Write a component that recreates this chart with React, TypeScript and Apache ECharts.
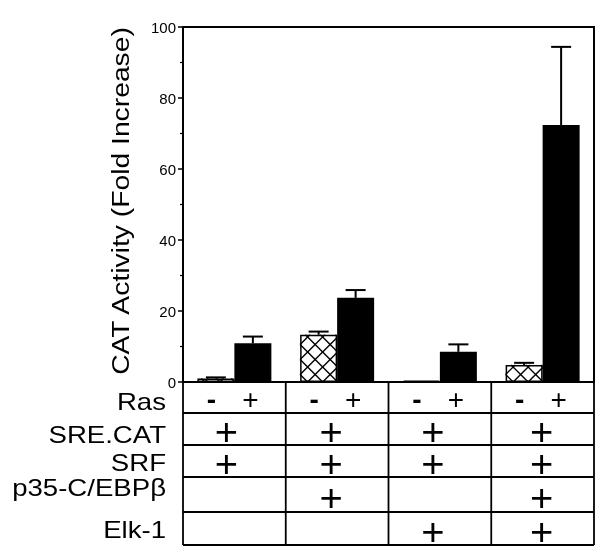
import React, { useEffect, useRef } from "react";
import * as echarts from "echarts";

// ---- data ----
const groups = ["G1", "G2", "G3", "G4"];
const rasMinus = [1.0, 13.3, 0.4, 4.8];
const rasMinusErr = [0.3, 0.9, 0, 0.6];
const rasPlus = [10.9, 23.7, 8.5, 72.4];
const rasPlusErr = [1.9, 2.2, 2.1, 22.0];
const yTicks = [0, 20, 40, 60, 80, 100];
const yTitle = "CAT Activity (Fold Increase)";
const rowLabels = ["Ras", "SRE.CAT", "SRF", "p35-C/EBPβ", "Elk-1"];
const rasSigns = ["-", "+"];
const sreCat = [true, true, true, true];
const srf = [true, true, true, true];
const p35 = [false, true, false, true];
const elk1 = [false, false, true, true];

// ---- layout ----
const BAR_W = 37;
const FONT = "'Liberation Sans', Arial, Helvetica, sans-serif";
const ROW_EDGES = [0, 31, 63, 95, 130, 163]; // px below zero line
const LABEL_X = 166;
const LABEL_Y = [401.5, 435, 462.5, 487.5, 530];
const PLUS_DX = [-8, -6, -7, -1];

function hatchItem(params: any, api: any) {
  const i = api.value(0);
  const v = api.value(1);
  const b = api.coord([i, 0]);
  const t = api.coord([i, v]);
  const x0 = b[0] - BAR_W, x1 = b[0];
  const y0 = t[1], y1 = b[1];
  if (y1 - y0 < 2) return { type: "group", children: [] };
  const P = 15;
  const children: any[] = [];
  const st = { stroke: "#000", lineWidth: 1.4 };
  for (let c = x0 + y1 - 40 * P + P / 2; c < x1 + y1 + P; c += P) {
    const xa = Math.max(x0, c - y1), xb = Math.min(x1, c - y0);
    if (xb > xa) children.push({ type: "line", shape: { x1: xa, y1: c - xa, x2: xb, y2: c - xb }, style: st });
  }
  for (let c = y1 - x0 - 40 * P - P / 2; c < y1 - x0 + 40 * P; c += P) {
    const xa = Math.max(x0, y0 - c), xb = Math.min(x1, y1 - c);
    if (xb > xa) children.push({ type: "line", shape: { x1: xa, y1: xa + c, x2: xb, y2: xb + c }, style: st });
  }
  return { type: "group", children };
}

function errItem(offset: number) {
  return (params: any, api: any) => {
    const i = api.value(0), v = api.value(1), e = api.value(2);
    if (!(e > 0)) return { type: "group", children: [] };
    const c = api.coord([i, v]);
    const t = api.coord([i, v + e]);
    const x = c[0] + offset;
    const st = { stroke: "#000", lineWidth: 2 };
    return {
      type: "group",
      children: [
        { type: "line", shape: { x1: x, y1: c[1], x2: x, y2: t[1] }, style: st },
        { type: "line", shape: { x1: x - 10, y1: t[1], x2: x + 10, y2: t[1] }, style: st },
      ],
    };
  };
}

export default function App() {
  const ref = useRef<HTMLDivElement>(null);
  useEffect(() => {
    const el = ref.current!;
    const chart = echarts.init(el, null, { renderer: "svg" });
    const option: any = {
      animation: false,
      grid: { left: 183, right: 6, top: 27, bottom: 171, show: true, borderColor: "#000", borderWidth: 2, backgroundColor: "transparent" },
      xAxis: {
        type: "category",
        data: groups,
        axisLabel: { show: false },
        axisTick: { show: false },
        axisLine: { lineStyle: { color: "#000", width: 2 } },
      },
      yAxis: {
        type: "value",
        min: yTicks[0],
        max: yTicks[yTicks.length - 1],
        interval: 20,
        axisLine: { show: true, lineStyle: { color: "#000", width: 2 } },
        axisTick: { show: true, length: 5, lineStyle: { color: "#000", width: 1.5 } },
        minorTick: { show: true, splitNumber: 2, length: 3, lineStyle: { color: "#000", width: 1.2 } },
        splitLine: { show: false },
        axisLabel: { color: "#000", fontSize: 15, fontFamily: FONT, margin: 7 },
      },
      series: [
        {
          type: "bar",
          name: "Ras -",
          data: rasMinus,
          barWidth: BAR_W,
          barGap: "0%",
          itemStyle: { color: "#fff", borderColor: "#000", borderWidth: 1.5 },
          z: 2,
        },
        {
          type: "bar",
          name: "Ras +",
          data: rasPlus,
          barWidth: BAR_W,
          barGap: "0%",
          itemStyle: { color: "#000" },
          z: 2,
        },
        {
          type: "custom",
          name: "hatch",
          data: rasMinus.map((v, i) => [i, v]),
          renderItem: hatchItem,
          z: 3,
        },
        {
          type: "custom",
          name: "err -",
          data: rasMinus.map((v, i) => [i, v, rasMinusErr[i]]),
          renderItem: errItem(-BAR_W / 2),
          z: 4,
        },
        {
          type: "custom",
          name: "err +",
          data: rasPlus.map((v, i) => [i, v, rasPlusErr[i]]),
          renderItem: errItem(BAR_W / 2),
          z: 4,
        },
      ],
    };
    chart.setOption(option);

    const cx = groups.map((g) => chart.convertToPixel({ xAxisIndex: 0 }, g) as number);
    const bw = cx[1] - cx[0];
    const y0 = chart.convertToPixel({ yAxisIndex: 0 }, 0) as number;
    const left = cx[0] - bw / 2;
    const right = cx[cx.length - 1] + bw / 2;
    const top = y0;
    const bottom = y0 + ROW_EDGES[ROW_EDGES.length - 1];
    const ln = { stroke: "#000", lineWidth: 1.8 };
    const g: any[] = [];
    for (let i = 0; i <= groups.length; i++) {
      const x = cx[0] - bw / 2 + i * bw;
      g.push({ type: "line", shape: { x1: x, y1: top, x2: x, y2: bottom }, style: ln });
    }
    ROW_EDGES.forEach((d) => {
      g.push({ type: "line", shape: { x1: left, y1: y0 + d, x2: right, y2: y0 + d }, style: ln });
    });
    rowLabels.forEach((t, r) => {
      g.push({
        type: "text",
        x: LABEL_X,
        y: LABEL_Y[r],
        scaleX: 1.2,
        style: { text: t, fill: "#000", font: `23px ${FONT}`, textAlign: "right", textVerticalAlign: "middle" },
      });
    });
    const rasY = y0 + (ROW_EDGES[0] + ROW_EDGES[1]) / 2 + 2;
    cx.forEach((c) => {
      g.push({
        type: "text", x: c - 23, y: rasY,
        style: { text: rasSigns[0], fill: "#000", font: `bold 28px ${FONT}`, textAlign: "center", textVerticalAlign: "middle" },
      });
      g.push({
        type: "text", x: c + 16, y: rasY,
        style: { text: rasSigns[1], fill: "#000", font: `28px ${FONT}`, textAlign: "center", textVerticalAlign: "middle" },
      });
    });
    const flags = [sreCat, srf, p35, elk1];
    flags.forEach((arr, r) => {
      const yc = y0 + (ROW_EDGES[r + 1] + ROW_EDGES[r + 2]) / 2 + 3;
      arr.forEach((on, i) => {
        if (!on) return;
        g.push({
          type: "text", x: cx[i] + PLUS_DX[i], y: yc, scaleX: 1.05,
          style: { text: "+", fill: "#000", font: `38px ${FONT}`, textAlign: "center", textVerticalAlign: "middle" },
        });
      });
    });
    g.push({
      type: "text",
      x: 121,
      y: 201,
      rotation: Math.PI / 2,
      scaleX: 1.23,
      style: { text: yTitle, fill: "#000", font: `23px ${FONT}`, textAlign: "center", textVerticalAlign: "middle" },
    });
    chart.setOption({ graphic: g });
    return () => chart.dispose();
  }, []);
  return <div ref={ref} style={{ position: "fixed", left: 0, top: 0, width: 600, height: 553 }} />;
}
